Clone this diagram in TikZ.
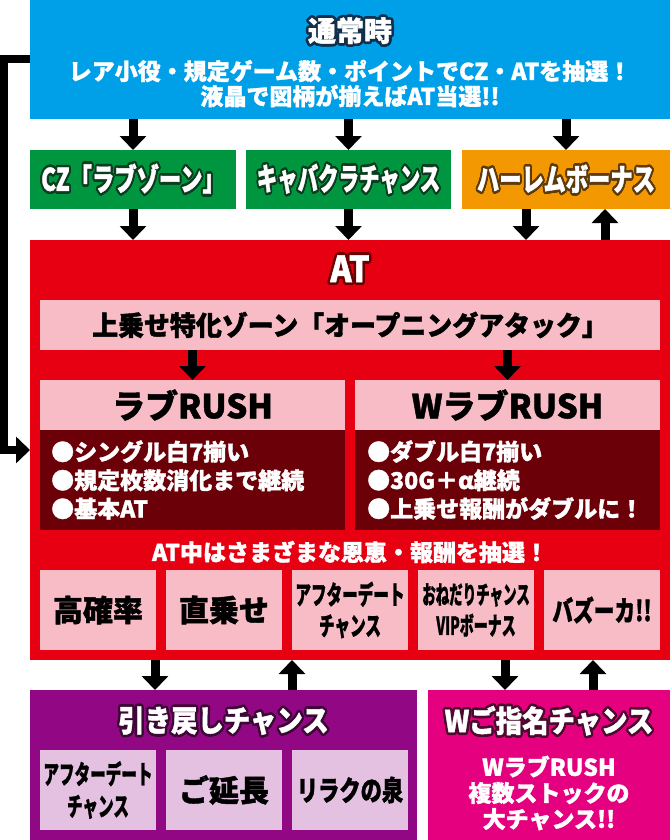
\documentclass[tikz,border=0pt]{standalone}
\usepackage{fontspec}
\setmainfont{Noto Sans CJK JP}[BoldFeatures={FakeBold=1.4}]
\usepackage{graphicx}
\usepackage{contour}
\usetikzlibrary{arrows.meta,positioning}
\contournumber{20}
\contourlength{2.6pt}
\newcommand{\narrowed}[2]{\scalebox{#1}[1]{#2}}

\definecolor{normalblue}{HTML}{00A0E9}
\definecolor{czgreen}{HTML}{00963F}
\definecolor{haremorange}{HTML}{F39800}
\definecolor{atred}{HTML}{E60012}
\definecolor{lightpink}{HTML}{F7BCC5}
\definecolor{rushdark}{HTML}{6C0008}
\definecolor{backpurple}{HTML}{920783}
\definecolor{lavender}{HTML}{E4C1E0}
\definecolor{shimeipink}{HTML}{E5007F}
\definecolor{navyline}{HTML}{12304C}
\definecolor{greenline}{HTML}{0B3D1E}
\definecolor{brownline}{HTML}{5C3A0C}
\definecolor{redline}{HTML}{6A0000}
\definecolor{purpleline}{HTML}{3C0834}
\definecolor{pinkline}{HTML}{4E0A2E}

\tikzset{
  box/.style={inner sep=0pt, outer sep=0pt, draw=none},
  arr/.style={line width=9pt, -{Triangle[width=26pt,length=14pt]}},
  txt/.style={inner sep=0pt, text=white, font=\bfseries\fontsize{#1}{#1}\selectfont},
  blk/.style={inner sep=0pt, text=black, font=\bfseries\fontsize{#1}{#1}\selectfont},
}

\begin{document}
\begin{tikzpicture}[x=1pt,y=-1pt]
  \useasboundingbox (0,0) rectangle (670,840);

  %%%%% boxes %%%%%
  \node[box, fill=normalblue, minimum width=640pt, minimum height=119pt] (normal) at (350,59.5) {};
  \node[box, fill=czgreen, minimum width=206pt, minimum height=59pt] (cz) at (133,179.5) {};
  \node[box, fill=czgreen, minimum width=205pt, minimum height=59pt] (kyaba) at (348.5,179.5) {};
  \node[box, fill=haremorange, minimum width=208pt, minimum height=59pt] (harem) at (566,179.5) {};

  \node[box, fill=atred, minimum width=640pt, minimum height=420pt] (at) at (350,450) {};
  \node[box, fill=lightpink, minimum width=620pt, minimum height=50pt] (opening) at (350,325) {};
  \node[box, fill=lightpink, minimum width=305pt, minimum height=50pt] (loveh) at (192.5,405) {};
  \node[box, fill=lightpink, minimum width=305pt, minimum height=50pt] (wloveh) at (507.5,405) {};
  \node[box, fill=rushdark, minimum width=305pt, minimum height=100pt] (loveb) at (192.5,480) {};
  \node[box, fill=rushdark, minimum width=305pt, minimum height=100pt] (wloveb) at (507.5,480) {};
  \foreach \cx/\nm in {98/kakuritsu,224/jikanose,350/afterat,476/onedari,602/bazooka}
    \node[box, fill=lightpink, minimum width=116pt, minimum height=80pt] (\nm) at (\cx,610) {};

  \node[box, fill=backpurple, minimum width=387pt, minimum height=150pt] (back) at (223.5,765) {};
  \foreach \cx/\nm in {98/afterback,224/encho,350/izumi}
    \node[box, fill=lavender, minimum width=116pt, minimum height=80pt] (\nm) at (\cx,790) {};
  \node[box, fill=shimeipink, minimum width=242pt, minimum height=150pt] (shimei) at (549,765) {};

  %%%%% texts %%%%%
  \node[txt=28] (normalt) at (350,32) {\contour{navyline}{通常時}};
  \node[txt=23] (normall1) at (350,71) {レア小役・規定ゲーム数・ポイントでCZ・ATを抽選！};
  \node[txt=23] (normall2) at (350,96) {液晶で図柄が揃えばAT当選!!};

  \node[txt=31] (czt) at (133,180) {\narrowed{0.72}{\contour{greenline}{CZ「ラブゾーン」}}};
  \node[txt=31] (kyabat) at (348.5,180) {\narrowed{0.66}{\contour{greenline}{キャバクラチャンス}}};
  \node[txt=31] (haremt) at (566,180) {\narrowed{0.72}{\contour{brownline}{ハーレムボーナス}}};

  \node[txt=36] (att) at (350,270) {\narrowed{0.9}{\contour{redline}{AT}}};
  \node[blk=27] (openingt) at (opening) {\narrowed{0.96}{上乗せ特化ゾーン「オープニングアタック」}};
  \node[blk=33] (lovet) at (loveh) {ラブRUSH};
  \node[blk=33] (wlovet) at (wloveh) {WラブRUSH};

  \node[txt=23, anchor=west, align=left, font=\bfseries\fontsize{23}{28.5}\selectfont] (lovel) at (51,480)
    {●シングル白7揃い\\●規定枚数消化まで継続\\●基本AT};
  \node[txt=23, anchor=west, align=left, font=\bfseries\fontsize{23}{28.5}\selectfont] (wlovel) at (367,480)
    {●ダブル白7揃い\\●30G＋α継続\\●上乗せ報酬がダブルに！};

  \node[txt=23] (bonust) at (350,552) {AT中はさまざまな恩恵・報酬を抽選！};
  \node[blk=30] at (kakuritsu) {高確率};
  \node[blk=30] at (jikanose) {直乗せ};
  \node[blk=26, align=center, font=\bfseries\fontsize{26}{31}\selectfont] at (afterat) {\narrowed{0.6}{アフターデート}\\\narrowed{0.6}{チャンス}};
  \node[blk=25, align=center, font=\bfseries\fontsize{25}{31}\selectfont] at (onedari) {\narrowed{0.54}{おねだりチャンス}\\\narrowed{0.56}{VIPボーナス}};
  \node[blk=28] at (bazooka) {\narrowed{0.74}{バズーカ!!}};

  \node[txt=30] (backt) at (223.5,722) {\narrowed{0.88}{\contour{purpleline}{引き戻しチャンス}}};
  \node[blk=26, align=center, font=\bfseries\fontsize{26}{32}\selectfont] at (afterback) {\narrowed{0.6}{アフターデート}\\\narrowed{0.6}{チャンス}};
  \node[blk=30] at (encho) {ご延長};
  \node[blk=28] at (izumi) {\narrowed{0.76}{リラクの泉}};

  \node[txt=30] (shimeit) at (549,722) {\narrowed{0.88}{\contour{pinkline}{Wご指名チャンス}}};
  \node[txt=22, align=center, font=\bfseries\fontsize{23}{26}\selectfont] (shimeil) at (549,793)
    {WラブRUSH\\複数ストックの\\大チャンス!!};

  %%%%% arrows %%%%%
  \foreach \nm in {cz,kyaba,harem}
    \draw[arr] (normal.south -| \nm) -- (\nm);
  \foreach \nm in {cz,kyaba}
    \draw[arr] (\nm) -- (\nm |- at.north);
  \draw[arr] ([xshift=-40pt]harem.south) -- ([xshift=-40pt]harem.south |- at.north);
  \draw[arr] ([xshift=39pt]harem.south |- at.north) -- ([xshift=39pt]harem.south);

  \draw[arr] (opening.south -| loveh) -- (loveh);
  \draw[arr] (opening.south -| wloveh) -- (wloveh);

  \draw[arr] ([xshift=-68.5pt]back.north |- at.south) -- ([xshift=-68.5pt]back.north);
  \draw[arr] ([xshift=68.5pt]back.north) -- ([xshift=68.5pt]back.north |- at.south);
  \draw[arr] ([xshift=-44pt]shimei.north |- at.south) -- ([xshift=-44pt]shimei.north);
  \draw[arr] ([xshift=44pt]shimei.north) -- ([xshift=44pt]shimei.north |- at.south);

  % loop back to AT
  \draw[arr, line width=8pt, line join=miter] (normal.west) -- ++(-26,0) |- (at.west);
\end{tikzpicture}
\end{document}
